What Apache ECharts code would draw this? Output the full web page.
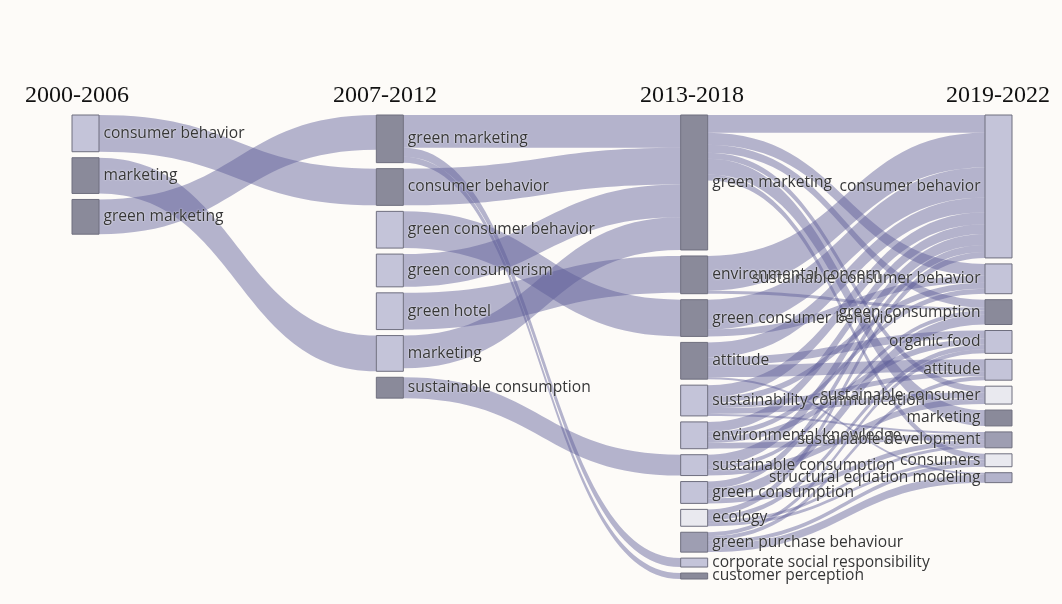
<!DOCTYPE html>
<html><head><meta charset="utf-8">
<script src="https://cdn.jsdelivr.net/npm/echarts@6/dist/echarts.min.js"></script>
<style>html,body{margin:0;padding:0;background:#fdfbf8}#c{width:1062px;height:604px}</style>
</head><body><div id="c"></div>
<script>
const periods = ['2000-2006', '2007-2012', '2013-2018', '2019-2022'];
const themes2000 = ['consumer behavior', 'marketing', 'green marketing'];
const themes2007 = ['green marketing', 'consumer behavior', 'green consumer behavior', 'green consumerism', 'green hotel', 'marketing', 'sustainable consumption'];
const themes2013 = ['green marketing', 'environmental concern', 'green consumer behavior', 'attitude', 'sustainability communication', 'environmental knowledge', 'sustainable consumption', 'green consumption', 'ecology', 'green purchase behaviour', 'corporate social responsibility', 'customer perception'];
const themes2019 = ['consumer behavior', 'sustainable consumer behavior', 'green consumption', 'organic food', 'attitude', 'sustainable consumer', 'marketing', 'sustainable development', 'consumers', 'structural equation modeling'];

// [source theme, target theme, weight]
const links2000to2007 = [
  ['consumer behavior', 'consumer behavior', 37],
  ['marketing', 'marketing', 36],
  ['green marketing', 'green marketing', 35]
];
const links2007to2013 = [
  ['green marketing', 'green marketing', 33],
  ['green marketing', 'corporate social responsibility', 9],
  ['green marketing', 'customer perception', 6],
  ['consumer behavior', 'green marketing', 37],
  ['green consumer behavior', 'green consumer behavior', 37],
  ['green consumerism', 'green marketing', 33],
  ['green hotel', 'environmental concern', 37],
  ['marketing', 'green marketing', 33],
  ['sustainable consumption', 'sustainable consumption', 21]
];
const links2013to2019 = [
  ['green marketing', 'consumer behavior', 18],
  ['green marketing', 'sustainable consumer behavior', 12],
  ['green marketing', 'green consumption', 8],
  ['green marketing', 'sustainable consumer', 6],
  ['green marketing', 'marketing', 16],
  ['green marketing', 'consumers', 6],
  ['environmental concern', 'consumer behavior', 35],
  ['environmental concern', 'green consumption', 3],
  ['green consumer behavior', 'consumer behavior', 30],
  ['green consumer behavior', 'sustainable consumer behavior', 7],
  ['attitude', 'consumer behavior', 15],
  ['attitude', 'organic food', 8],
  ['attitude', 'attitude', 12],
  ['attitude', 'structural equation modeling', 2],
  ['sustainability communication', 'consumer behavior', 12],
  ['sustainability communication', 'sustainable consumer behavior', 6],
  ['sustainability communication', 'attitude', 5],
  ['sustainability communication', 'sustainable consumer', 6],
  ['sustainability communication', 'sustainable development', 2],
  ['environmental knowledge', 'consumer behavior', 10],
  ['environmental knowledge', 'sustainable consumer behavior', 5],
  ['environmental knowledge', 'organic food', 6],
  ['environmental knowledge', 'sustainable development', 6],
  ['sustainable consumption', 'consumer behavior', 11],
  ['sustainable consumption', 'green consumption', 4],
  ['sustainable consumption', 'sustainable consumer', 6],
  ['green consumption', 'consumer behavior', 7],
  ['green consumption', 'green consumption', 10],
  ['green consumption', 'sustainable development', 5],
  ['ecology', 'consumer behavior', 6],
  ['ecology', 'organic food', 5],
  ['ecology', 'sustainable development', 3],
  ['ecology', 'consumers', 3],
  ['green purchase behaviour', 'organic food', 4],
  ['green purchase behaviour', 'attitude', 4],
  ['green purchase behaviour', 'consumers', 4],
  ['green purchase behaviour', 'structural equation modeling', 8]
];

// ---- styling (kept apart from the data) ----
const toneColor = { dark: '#8a8a9a', mid: '#9e9eb2', midlight: '#b3b3cb', light: '#c4c4d9', vlight: '#e9e9ef' };
const tone = {
  '2000-2006|marketing': 'dark', '2000-2006|green marketing': 'dark',
  '2007-2012|green marketing': 'dark', '2007-2012|consumer behavior': 'dark', '2007-2012|sustainable consumption': 'dark',
  '2013-2018|green marketing': 'dark', '2013-2018|environmental concern': 'dark', '2013-2018|green consumer behavior': 'dark',
  '2013-2018|attitude': 'dark', '2013-2018|customer perception': 'dark', '2013-2018|green purchase behaviour': 'mid',
  '2013-2018|ecology': 'vlight',
  '2019-2022|green consumption': 'dark', '2019-2022|marketing': 'dark', '2019-2022|sustainable development': 'mid',
  '2019-2022|structural equation modeling': 'midlight', '2019-2022|sustainable consumer': 'vlight', '2019-2022|consumers': 'vlight'
};

const cols = [themes2000, themes2007, themes2013, themes2019];
const linkSets = [links2000to2007, links2007to2013, links2013to2019];
const key = (p, n) => p + '|' + n;
const nodes = [];
cols.forEach((list, d) => list.forEach(n => {
  const k = key(periods[d], n);
  nodes.push({
    name: k, depth: d,
    itemStyle: { color: toneColor[tone[k] || 'light'] },
    label: { position: d === 3 ? 'left' : 'right' }
  });
}));
const links = [];
linkSets.forEach((set, d) => set.forEach(([s, t, v]) => links.push({ source: key(periods[d], s), target: key(periods[d + 1], t), value: v })));

const chart = echarts.init(document.getElementById('c'));
const hdr = { fontFamily: 'Liberation Serif', fontSize: 24, fill: '#111111' };
chart.setOption({
  backgroundColor: '#fdfbf8',
  animation: false,
  graphic: [
    { type: 'text', left: 25, top: 84, style: Object.assign({ text: periods[0] }, hdr) },
    { type: 'text', left: 333, top: 84, style: Object.assign({ text: periods[1] }, hdr) },
    { type: 'text', left: 640, top: 84, style: Object.assign({ text: periods[2] }, hdr) },
    { type: 'text', right: 12, top: 84, style: Object.assign({ text: periods[3] }, hdr) }
  ],
  series: [{
    type: 'sankey',
    left: 72, right: 50, top: 115, bottom: 25,
    nodeWidth: 27, nodeGap: 6,
    layoutIterations: 0,
    draggable: false,
    emphasis: { disabled: true },
    data: nodes,
    links: links,
    itemStyle: { borderColor: '#6f6f7f', borderWidth: 1 },
    lineStyle: { color: '#5a5a96', opacity: 0.45, curveness: 0.5 },
    label: {
      fontFamily: 'Open Sans', fontSize: 15.6, color: '#363636', distance: 4,
      textShadowColor: '#ffffff', textShadowBlur: 2,
      formatter: p => p.name.split('|')[1]
    }
  }]
});
</script>
</body></html>
